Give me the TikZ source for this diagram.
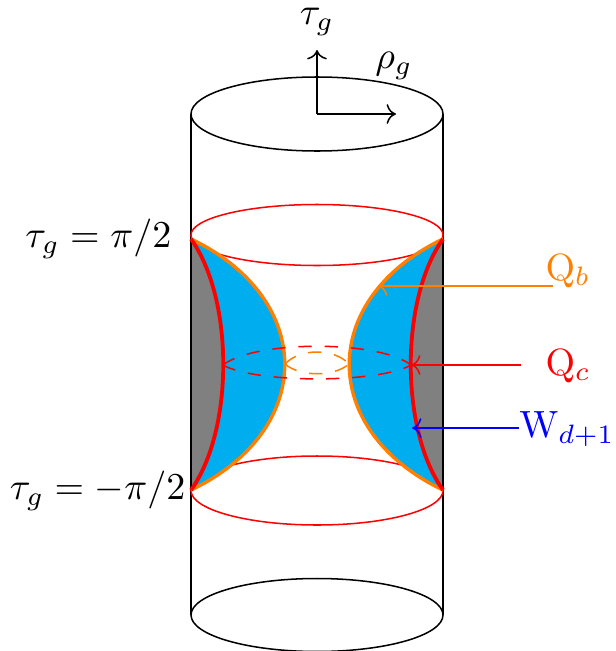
\documentclass[tikz,border=0pt]{standalone}
\usepackage{amsmath,amssymb}
\usetikzlibrary{arrows.meta,calc}
\definecolor{bulkblue}{RGB}{0,173,239}
\definecolor{braneorange}{RGB}{255,128,0}
\tikzset{
  outline/.style={draw=black, line width=0.4pt},
  slice/.style={draw=red, line width=0.4pt},
  sliceback/.style={line width=0.4pt, dash pattern=on 3.5pt off 3.4pt},
  brane/.style={draw=braneorange, line width=0.9pt},
  defect/.style={draw=red, line width=1pt},
  pointer/.style={->, line width=0.4pt},
  tag/.style={inner sep=0pt}
}
\begin{document}
\begin{tikzpicture}[x=0.2635pt,y=-0.2635pt]
    \useasboundingbox (0,0) rectangle (615,651);

    % end points on the cylinder
    \coordinate (tl) at (191,239);
    \coordinate (tr) at (443,239);
    \coordinate (bl) at (191,490);
    \coordinate (br) at (443,490);

    % cylinder
    \draw[outline] (317,114) ellipse (126 and 37);
    \draw[outline] (317,615) ellipse (126 and 36.5);
    \draw[outline] (191,114) -- (191,615);
    \draw[outline] (443,114) -- (443,615);

    \draw[slice] (317,235) ellipse (126 and 30.5);
    \draw[slice] (317,490.5) ellipse (126 and 34.5);

    % wedge regions
    \fill[gray] (tl) -- (bl) .. controls (234,430) and (234,299) .. (tl);
    \fill[gray] (tr) -- (br) .. controls (400,430) and (400,299) .. (tr);
    \fill[bulkblue] (tl) .. controls (234,299) and (234,430) .. (bl)
      .. controls (316,430) and (316,299) .. (tl);
    \fill[bulkblue] (tr) .. controls (400,299) and (400,430) .. (br)
      .. controls (318,430) and (318,299) .. (tr);
    \draw[outline] (191,239) -- (191,490);
    \draw[outline] (443,239) -- (443,490);

    \draw[brane] (tl) .. controls (316,299) and (316,430) .. (bl);
    \draw[brane] (tr) .. controls (318,299) and (318,430) .. (br);
    \draw[defect] (tl) .. controls (234,299) and (234,430) .. (bl);
    \draw[defect] (tr) .. controls (400,299) and (400,430) .. (br);

    % throat
    \draw[sliceback, draw=red] (223,365) .. controls (255,340) and (379,340) .. (411,365);
    \draw[sliceback, draw=red] (223,365) .. controls (255,383.5) and (379,383.5) .. (411,365);
    \draw[sliceback, draw=braneorange] (285,364) .. controls (300,348) and (334,348) .. (349,364);
    \draw[sliceback, draw=braneorange] (285,364) .. controls (300,377) and (334,377) .. (349,364);

    % axes
    \coordinate (origin) at (317,114);
    \node[tag] (taulabel) at (317,22) {$\tau_g$};
    \node[tag] (rholabel) at (394,66) {$\rho_g$};
    \coordinate (tautip) at (317,50);
    \coordinate (rhotip) at (396,114);
    \draw[pointer] (origin) -- (tautip);
    \draw[pointer] (origin) -- (rhotip);

    \node[tag, anchor=east] (uplabel) at (172,239) {$\tau_g=\pi/2$};
    \node[tag, anchor=east] (lowlabel) at (186,491) {$\tau_g=-\pi/2$};

    % labels with arrows
    \node[tag, text=braneorange] (qb) at (568,271) {$\mathrm{Q}_b$};
    \node[tag, text=red] (qc) at (568,366) {$\mathrm{Q}_c$};
    \node[tag, text=blue] (wd) at (567,429) {$\mathrm{W}_{d+1}$};
    \coordinate (qbstart) at (553,286);
    \coordinate (qbend) at (378,286);
    \coordinate (qcstart) at (521,365);
    \coordinate (qcend) at (411,365);
    \coordinate (wdend) at (412,428);
    \draw[pointer, draw=braneorange] (qbstart) -- (qbend);
    \draw[pointer, draw=red] (qcstart) -- (qcend);
    \draw[pointer, draw=blue] (wd.west |- wdend) -- (wdend);
  \end{tikzpicture}
\end{document}
